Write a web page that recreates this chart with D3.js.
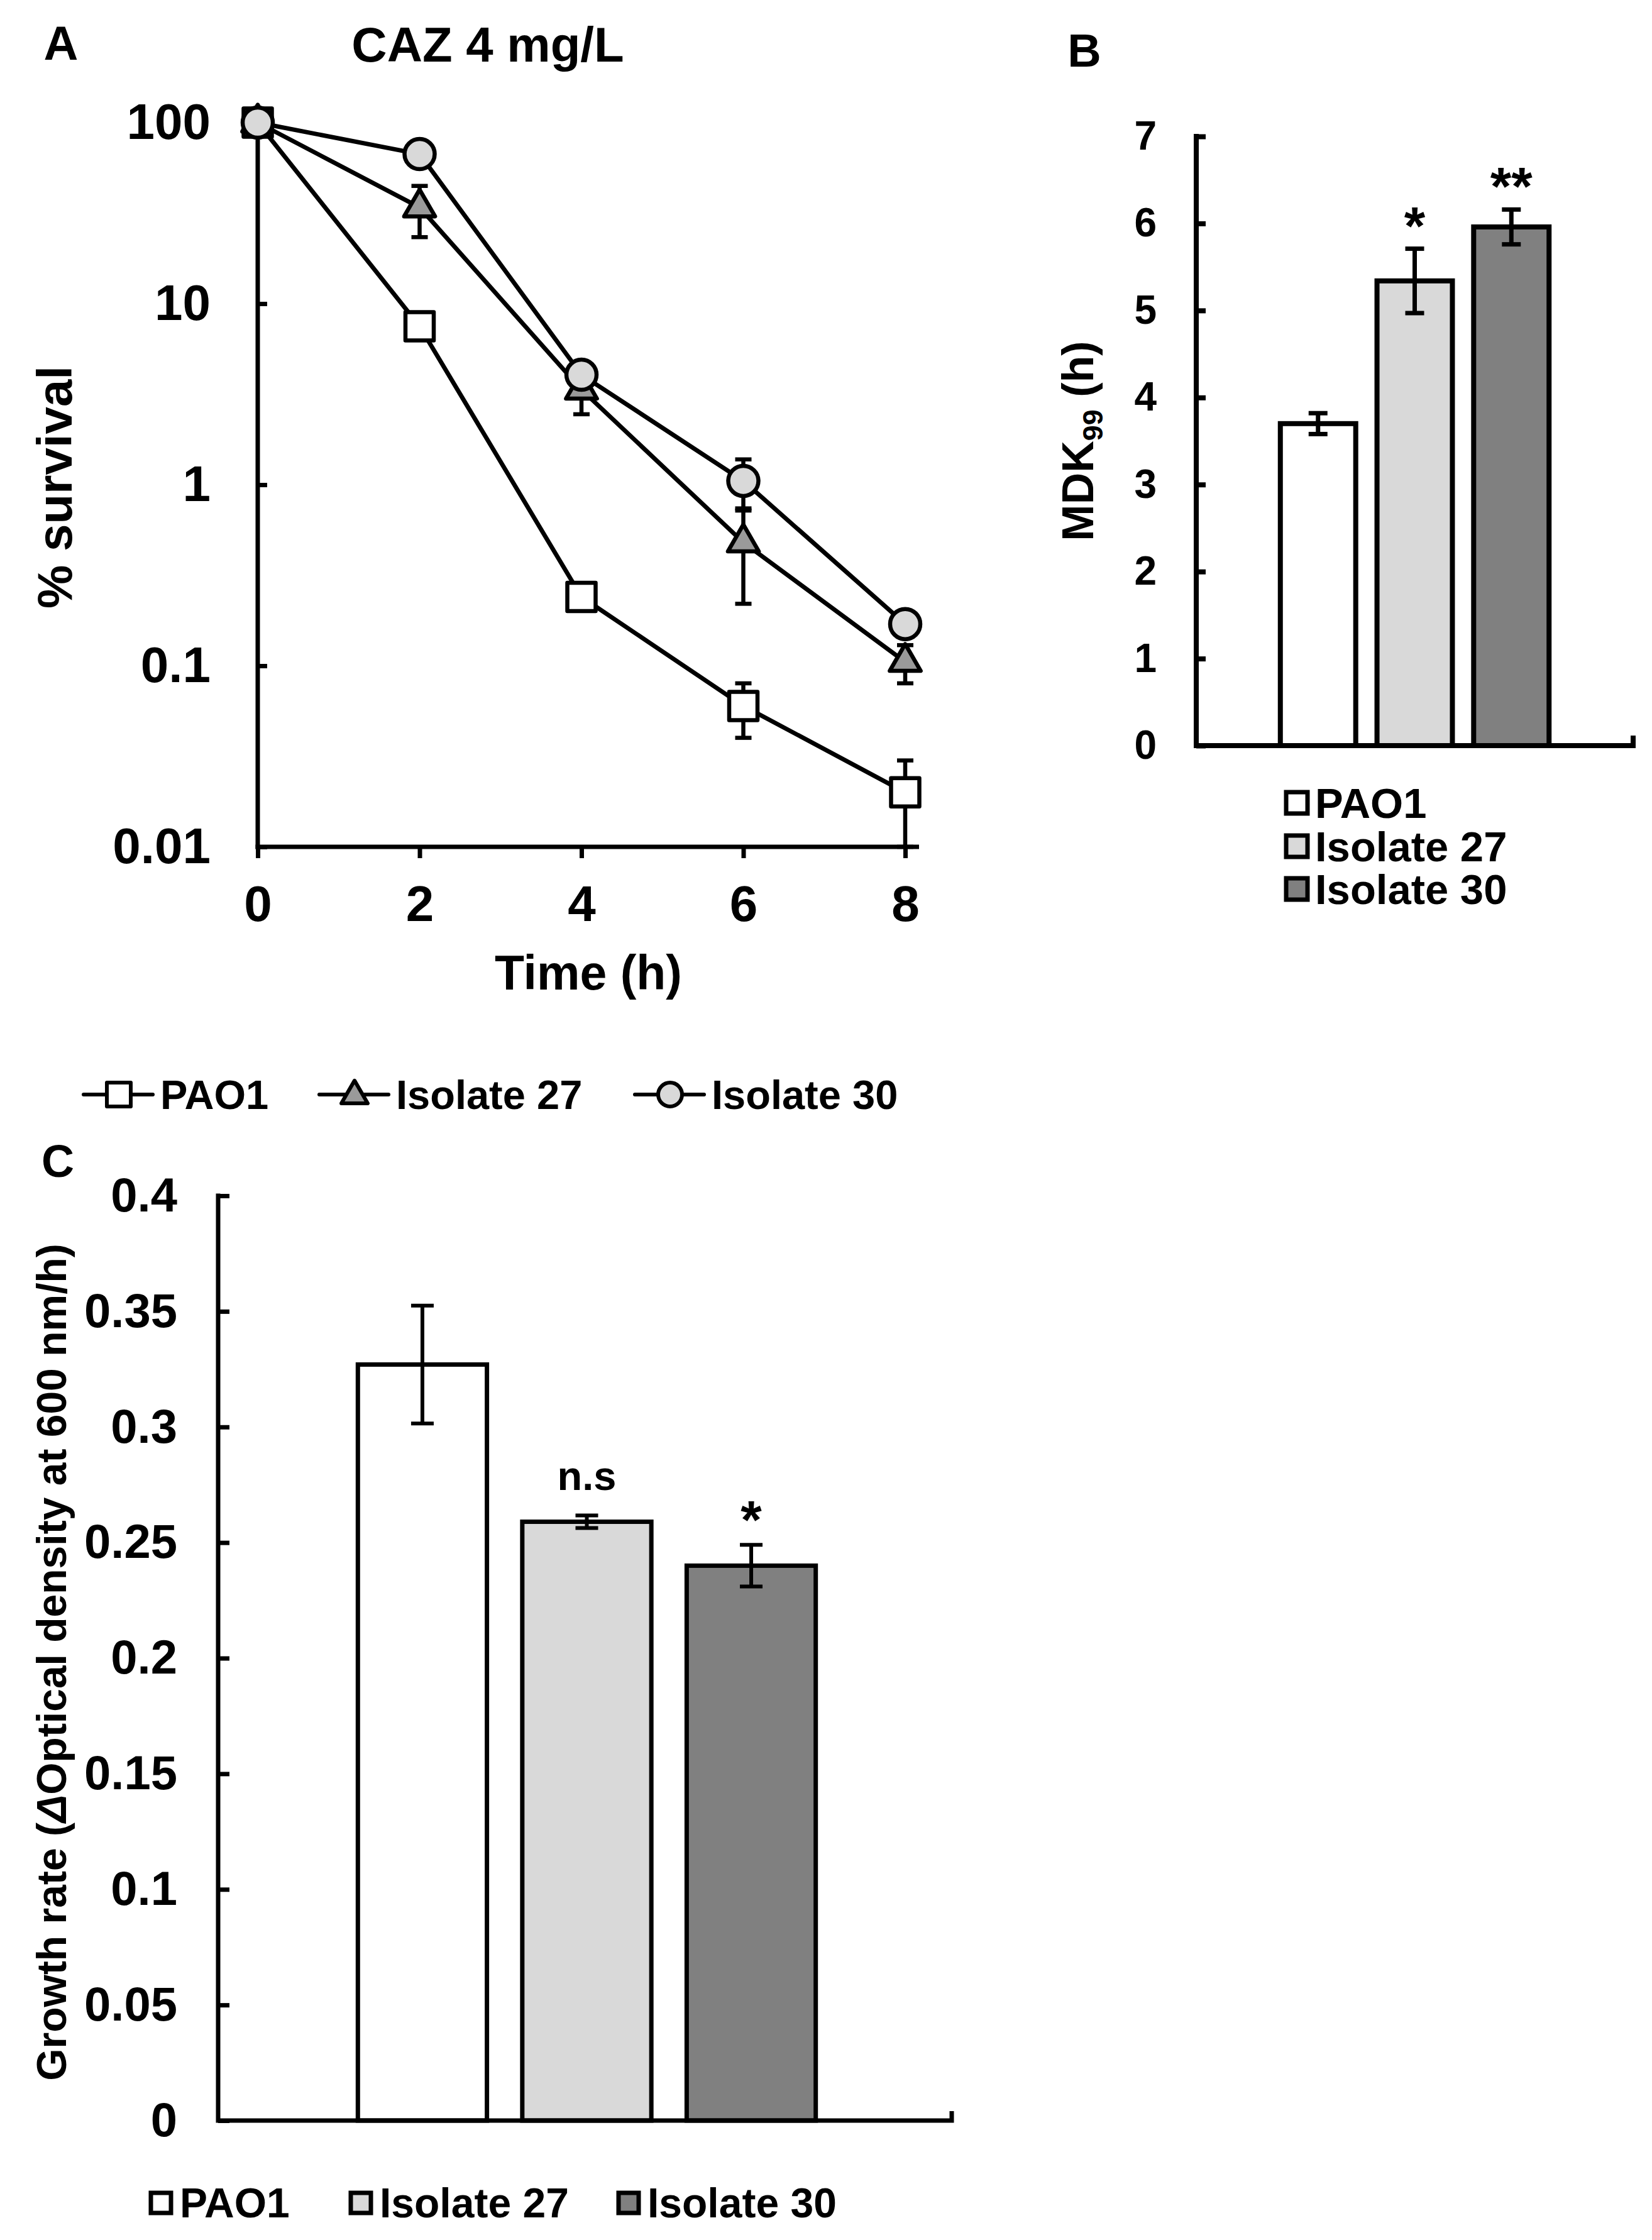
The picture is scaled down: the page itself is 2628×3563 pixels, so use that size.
<!DOCTYPE html>
<html><head><meta charset="utf-8">
<script src="https://cdn.jsdelivr.net/npm/d3@7"></script>
<style>
body{margin:0;background:#fff;}
text{font-family:"Liberation Sans",Arial,sans-serif;font-weight:bold;fill:#000;}
</style>
</head><body>
<svg id="fig" width="2628" height="3563"></svg>
<script>
// ---------------- DATA ----------------
const strains = ["PAO1", "Isolate 27", "Isolate 30"];
const timeTicks = [0, 2, 4, 6, 8];
const survivalTicks = [0.01, 0.1, 1, 10, 100];
const survivalTickLabels = ["0.01", "0.1", "1", "10", "100"];
const pao1Survival = [100, 7.5, 0.24, 0.06, 0.02];
const pao1SurvivalErr = [0, 0, 0, 0.02, 0.01];
const iso27Survival = [100, 34, 3.35, 0.48, 0.105];
const iso27SurvivalErr = [0, 10.7, 0.9, 0.26, 0.025];
const iso30Survival = [100, 67, 4.05, 1.05, 0.17];
const iso30SurvivalErr = [0, 0, 0, 0.33, 0.02];

const mdkTicks = [0, 1, 2, 3, 4, 5, 6, 7];
const mdkValues = [3.7, 5.34, 5.96];
const mdkErr = [0.12, 0.37, 0.2];
const mdkSig = ["", "*", "**"];

const growthTicks = [0, 0.05, 0.1, 0.15, 0.2, 0.25, 0.3, 0.35, 0.4];
const growthTickLabels = ["0", "0.05", "0.1", "0.15", "0.2", "0.25", "0.3", "0.35", "0.4"];
const growthValues = [0.327, 0.259, 0.240];
const growthErr = [0.0255, 0.0027, 0.009];
const growthSig = ["", "n.s", "*"];

const barFills = ["#ffffff", "#d9d9d9", "#808080"];

// ---------------- HELPERS ----------------
const svg = d3.select("#fig");
svg.append("rect").attr("width", 2628).attr("height", 3563).attr("fill", "#fff");

function styleAxis(g, sw, fs) {
  g.select(".domain").attr("stroke", "#000").attr("stroke-width", sw).attr("fill", "none");
  g.selectAll(".tick line").attr("stroke", "#000").attr("stroke-width", sw);
  g.selectAll(".tick text").attr("font-size", fs).attr("font-weight", "bold")
    .attr("font-family", "Liberation Sans, Arial, sans-serif").attr("fill", "#000");
  g.attr("font-size", null).attr("font-family", null);
}

function symbolPath(type, size) {
  const t = type === "square" ? d3.symbolSquare : type === "triangle" ? d3.symbolTriangle : d3.symbolCircle;
  return d3.symbol().type(t).size(size)();
}

// ================= PANEL A =================
const xA = d3.scaleLinear().domain([0, 8]).range([410, 1440]);
const yA = d3.scaleLog().domain([0.01, 100]).range([1347, 195]);
const gA = svg.append("g");

const series = [
  {name: strains[0], values: pao1Survival, err: pao1SurvivalErr, shape: "square", fill: "#ffffff", size: 45 * 45},
  {name: strains[1], values: iso27Survival, err: iso27SurvivalErr, shape: "triangle", fill: "#9a9a9a", size: 1050},
  {name: strains[2], values: iso30Survival, err: iso30SurvivalErr, shape: "circle", fill: "#d9d9d9", size: Math.PI * 24 * 24}
];

const yAxA = gA.append("g").attr("transform", `translate(${xA(0)},0)`)
  .call(d3.axisLeft(yA).tickValues(survivalTicks).tickFormat((d, i) => survivalTickLabels[i])
    .tickSize(-15).tickSizeOuter(0).tickPadding(75));
styleAxis(yAxA, 7, 80);
yAxA.select(".domain").attr("d", `M0,${yA(0.01) + 3.5}V${yA(100)}`);

const xAxA = gA.append("g").attr("transform", `translate(0,${yA(0.01)})`)
  .call(d3.axisBottom(xA).tickValues(timeTicks).tickFormat(d3.format("d"))
    .tickSize(18).tickSizeOuter(0).tickPadding(43));
styleAxis(xAxA, 7, 80);
xAxA.select(".domain").attr("d", `M${xA(0) - 3.5},0H${xA(8) + 22}`);

const lineA = d3.line().x((d, i) => xA(timeTicks[i])).y(d => yA(d));
series.forEach(s => {
  gA.append("path").attr("d", lineA(s.values)).attr("fill", "none")
    .attr("stroke", "#000").attr("stroke-width", 7).attr("stroke-linejoin", "round");
});
series.forEach(s => {
  s.values.forEach((v, i) => {
    const e = s.err[i];
    if (!e) return;
    const x = xA(timeTicks[i]);
    const y1 = yA(v + e), y0 = yA(Math.max(v - e, 0.01));
    gA.append("line").attr("x1", x).attr("x2", x).attr("y1", y1).attr("y2", y0)
      .attr("stroke", "#000").attr("stroke-width", 6.5);
    [y1, y0].forEach(yy => gA.append("line").attr("x1", x - 13).attr("x2", x + 13)
      .attr("y1", yy).attr("y2", yy).attr("stroke", "#000").attr("stroke-width", 6.5));
  });
});
series.forEach(s => {
  s.values.forEach((v, i) => {
    gA.append("path").attr("d", symbolPath(s.shape, s.size))
      .attr("transform", `translate(${xA(timeTicks[i])},${yA(v)})`)
      .attr("fill", s.fill).attr("stroke", "#000").attr("stroke-width", 6.5).attr("stroke-linejoin", "round");
  });
});

gA.append("text").attr("x", 97).attr("y", 95).attr("text-anchor", "middle").attr("font-size", 76).text("A");
gA.append("text").attr("x", 776).attr("y", 98).attr("text-anchor", "middle").attr("font-size", 78).text("CAZ 4 mg/L");
gA.append("text").attr("x", 936).attr("y", 1574).attr("text-anchor", "middle").attr("font-size", 77).text("Time (h)");
gA.append("text").attr("transform", `translate(${86 + 28},${(yA(0.01) + yA(100)) / 2 + 4}) rotate(-90)`)
  .attr("text-anchor", "middle").attr("font-size", 78).text("% survival");

// Line legend (for panel A)
const legY = 1741;
const legX = [133, 508, 1010];
series.forEach((s, i) => {
  const x0 = legX[i];
  gA.append("line").attr("x1", x0).attr("x2", x0 + 110).attr("y1", legY).attr("y2", legY)
    .attr("stroke", "#000").attr("stroke-width", 6).attr("stroke-linecap", "round");
  gA.append("path").attr("d", symbolPath(s.shape, s.shape === "square" ? 38 * 38 : s.shape === "triangle" ? 760 : Math.PI * 19 * 19))
    .attr("transform", `translate(${x0 + 56},${legY + (s.shape === "triangle" ? 2 : 0)})`)
    .attr("fill", s.fill).attr("stroke", "#000").attr("stroke-width", 6).attr("stroke-linejoin", "round");
  gA.append("text").attr("x", x0 + 122).attr("y", legY + 23).attr("font-size", 65).text(s.name);
});

// ================= PANEL B =================
const gB = svg.append("g");
const yB = d3.scaleLinear().domain([0, 7]).range([1186, 217]);
const xB = d3.scaleBand().domain(strains).range([1903, 2598]).paddingInner(0.22).paddingOuter(0.87);

const yAxB = gB.append("g").attr("transform", `translate(${xB.range()[0]},0)`)
  .call(d3.axisLeft(yB).tickValues(mdkTicks).tickFormat(d3.format("d"))
    .tickSize(-15).tickSizeOuter(0).tickPadding(63));
styleAxis(yAxB, 8, 64);
yAxB.select(".domain").attr("d", `M0,${yB(0) + 4}V${yB(7) - 4}`);

gB.selectAll("rect.bar").data(strains).enter().append("rect")
  .attr("x", d => xB(d)).attr("width", xB.bandwidth())
  .attr("y", (d, i) => yB(mdkValues[i])).attr("height", (d, i) => yB(0) - yB(mdkValues[i]))
  .attr("fill", (d, i) => barFills[i]).attr("stroke", "#000").attr("stroke-width", 8);

gB.append("path").attr("d", `M${xB.range()[0]},${yB(0)}H${xB.range()[1]}V${yB(0) - 16}`)
  .attr("fill", "none").attr("stroke", "#000").attr("stroke-width", 8);

strains.forEach((d, i) => {
  const cx = xB(d) + xB.bandwidth() / 2;
  const yt = yB(mdkValues[i] + mdkErr[i]), yb = yB(mdkValues[i] - mdkErr[i]);
  gB.append("line").attr("x1", cx).attr("x2", cx).attr("y1", yt).attr("y2", yb).attr("stroke", "#000").attr("stroke-width", 7);
  [yt, yb].forEach(yy => gB.append("line").attr("x1", cx - 15).attr("x2", cx + 15).attr("y1", yy).attr("y2", yy)
    .attr("stroke", "#000").attr("stroke-width", 7));
  if (mdkSig[i]) {
    gB.append("text").attr("x", cx).attr("y", yt - 55 + 48).attr("text-anchor", "middle")
      .attr("font-size", 86).text(mdkSig[i]);
  }
});

gB.append("text").attr("x", 1725).attr("y", 106).attr("text-anchor", "middle").attr("font-size", 74).text("B");
const mdkLab = gB.append("text").attr("transform", `translate(${1714 + 25},${(yB(0) + yB(7)) / 2}) rotate(-90)`)
  .attr("text-anchor", "middle").attr("font-size", 70);
mdkLab.append("tspan").text("MDK");
mdkLab.append("tspan").attr("font-size", 45).attr("dy", 15).text("99");
mdkLab.append("tspan").attr("dy", -15).text(" (h)");

// legend B
const legBY = [1277, 1346, 1414];
strains.forEach((d, i) => {
  gB.append("rect").attr("x", 2046).attr("y", legBY[i] - 17).attr("width", 34).attr("height", 34)
    .attr("fill", barFills[i]).attr("stroke", "#000").attr("stroke-width", 7);
  gB.append("text").attr("x", 2092).attr("y", legBY[i] + 24).attr("font-size", 67).text(d);
});

// ================= PANEL C =================
const gC = svg.append("g");
const yC = d3.scaleLinear().domain([0, 0.4]).range([3373, 1902]);
const xC = d3.scaleBand().domain(strains).range([347, 1520]).paddingInner(0.215).paddingOuter(0.85);

const yAxC = gC.append("g").attr("transform", `translate(${xC.range()[0]},0)`)
  .call(d3.axisLeft(yC).tickValues(growthTicks).tickFormat((d, i) => growthTickLabels[i])
    .tickSize(-18).tickSizeOuter(0).tickPadding(65));
styleAxis(yAxC, 7, 76);
yAxC.select(".domain").attr("d", `M0,${yC(0) + 3.5}V${yC(0.4) - 3.5}`);

gC.selectAll("rect.bar").data(strains).enter().append("rect")
  .attr("x", d => xC(d)).attr("width", xC.bandwidth())
  .attr("y", (d, i) => yC(growthValues[i])).attr("height", (d, i) => yC(0) - yC(growthValues[i]))
  .attr("fill", (d, i) => barFills[i]).attr("stroke", "#000").attr("stroke-width", 7);

gC.append("path").attr("d", `M${xC.range()[0]},${yC(0)}H${xC.range()[1] - 6}V${yC(0) - 15}`)
  .attr("fill", "none").attr("stroke", "#000").attr("stroke-width", 7);

strains.forEach((d, i) => {
  const cx = xC(d) + xC.bandwidth() / 2;
  const yt = yC(growthValues[i] + growthErr[i]), yb = yC(growthValues[i] - growthErr[i]);
  gC.append("line").attr("x1", cx).attr("x2", cx).attr("y1", yt).attr("y2", yb).attr("stroke", "#000").attr("stroke-width", 6);
  [yt, yb].forEach(yy => gC.append("line").attr("x1", cx - 18).attr("x2", cx + 18).attr("y1", yy).attr("y2", yy)
    .attr("stroke", "#000").attr("stroke-width", 6));
  if (growthSig[i]) {
    const isStar = growthSig[i].includes("*");
    gC.append("text").attr("x", cx).attr("y", yt - 58 + (isStar ? 48 : 17)).attr("text-anchor", "middle")
      .attr("font-size", isStar ? 86 : 65).text(growthSig[i]);
  }
});

gC.append("text").attr("x", 92).attr("y", 1872).attr("text-anchor", "middle").attr("font-size", 72).text("C");
const grLab = gC.append("text").attr("transform", `translate(${82 + 23},2644) rotate(-90)`)
  .attr("text-anchor", "middle").attr("font-size", 66);
grLab.append("tspan").text("Growth rate (");
grLab.append("tspan").attr("font-style", "italic").text("\u0394");
grLab.append("tspan").text("Optical density at 600 nm/h)");

// legend C
const legCX = [240, 558, 984];
strains.forEach((d, i) => {
  gC.append("rect").attr("x", legCX[i]).attr("y", 3504 - 16).attr("width", 32).attr("height", 32)
    .attr("fill", barFills[i]).attr("stroke", "#000").attr("stroke-width", 7);
  gC.append("text").attr("x", legCX[i] + 46).attr("y", 3504 + 23).attr("font-size", 66).text(d);
});
</script>
</body></html>
